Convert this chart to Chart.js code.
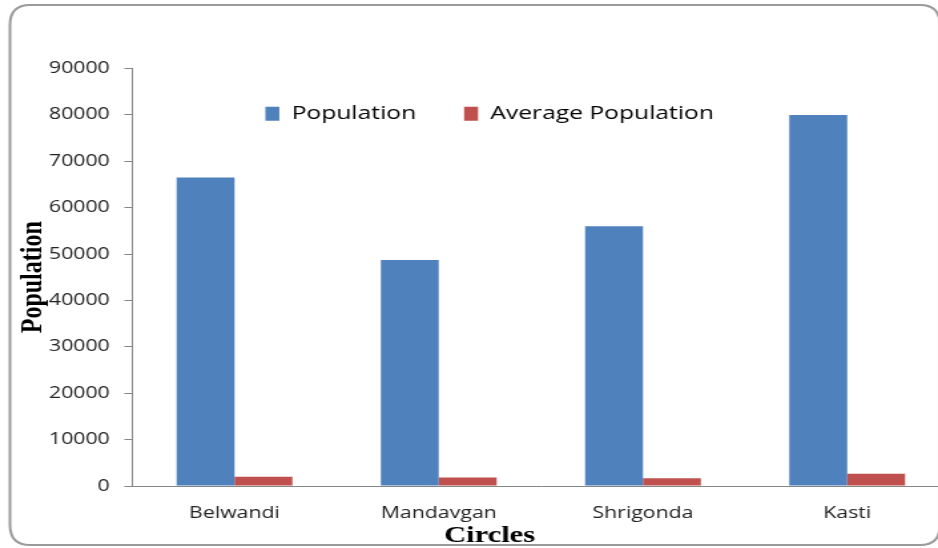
<!DOCTYPE html>
<html>
<head>
<meta charset="utf-8">
<script src="https://cdn.jsdelivr.net/npm/chart.js@4.4.1/dist/chart.umd.min.js"></script>
<style>
  html, body { margin: 0; padding: 0; background: #fff; overflow: hidden; width: 938px; height: 548px; }
  /* the chart is laid out narrow and widened horizontally */
  #wrap { position: absolute; left: 0; top: 0; width: 720px; height: 548px;
          transform: scaleX(1.3305); transform-origin: 0 0; }
</style>
</head>
<body>
<div id="wrap"><canvas id="chart"></canvas></div>
<script>
// Circles (categories) and their values
const circles = ['Belwandi', 'Mandavgan', 'Shrigonda', 'Kasti'];
const population = [66500, 48700, 56000, 80000];
const averagePopulation = [2000, 1850, 1650, 2650];
const yTickLabels = ['0', '10000', '20000', '30000', '40000', '50000', '60000', '70000', '80000', '90000'];

const AXIS_GREY = '#868686';
const SANS = "'Open Sans', 'DejaVu Sans', sans-serif";
const SERIF = "'Liberation Serif', 'DejaVu Serif', serif";
const LEGEND_PAD = 36;

// white background and rounded outer frame
const framePlugin = {
  id: 'frame',
  beforeDraw(chart) {
    const ctx = chart.ctx;
    ctx.save();
    ctx.fillStyle = '#ffffff';
    ctx.fillRect(0, 0, chart.width, chart.height);
    const l = 7.5, t = 5, r = 706.5, b = 545, rx = 15, ry = 20;
    ctx.beginPath();
    ctx.moveTo(l + rx, t);
    ctx.lineTo(r - rx, t);
    ctx.quadraticCurveTo(r, t, r, t + ry);
    ctx.lineTo(r, b - ry);
    ctx.quadraticCurveTo(r, b, r - rx, b);
    ctx.lineTo(l + rx, b);
    ctx.quadraticCurveTo(l, b, l, b - ry);
    ctx.lineTo(l, t + ry);
    ctx.quadraticCurveTo(l, t, l + rx, t);
    ctx.closePath();
    ctx.lineWidth = 2;
    ctx.strokeStyle = '#9b9b9b';
    ctx.stroke();
    ctx.restore();
  }
};

// place the legend row inside the top of the plot area
const legendInsidePlugin = {
  id: 'legendInside',
  afterLayout(chart) {
    const lg = chart.legend;
    if (!lg) return;
    const h = lg.bottom - lg.top;
    lg.top = chart.chartArea.top;
    lg.bottom = lg.top + h;
  }
};

new Chart(document.getElementById('chart'), {
  type: 'bar',
  data: {
    labels: circles,
    datasets: [
      { label: 'Population', data: population, backgroundColor: '#4F81BD', borderWidth: 0 },
      { label: 'Average Population', data: averagePopulation, backgroundColor: '#C0504D', borderWidth: 0 }
    ]
  },
  options: {
    responsive: true,
    maintainAspectRatio: false,
    animation: false,
    categoryPercentage: 0.567,
    barPercentage: 1,
    layout: { padding: { left: 22.5, right: 6.5, top: 4, bottom: 0 } },
    plugins: {
      legend: {
        position: 'top',
        labels: {
          boxWidth: 10.5,
          boxHeight: 14,
          padding: LEGEND_PAD,
          color: '#000',
          font: { family: SANS, size: 18.5 }
        }
      },
      title: {
        display: true,
        position: 'bottom',
        text: 'Circles',
        color: '#000',
        padding: { top: 0, bottom: -2 },
        font: { family: SERIF, size: 23, weight: 'bold', lineHeight: 1.2 }
      },
      tooltip: { enabled: false }
    },
    scales: {
      x: {
        grid: { display: false, drawTicks: false },
        border: { display: true, color: AXIS_GREY, width: 1 },
        ticks: { color: '#222', padding: 18, font: { family: SANS, size: 16 } },
        afterFit(scale) { scale.height = 36.4; }
      },
      y: {
        min: 0,
        max: 90000,
        grid: { display: true, drawOnChartArea: false, drawTicks: true, tickLength: 6, color: AXIS_GREY },
        border: { display: true, color: AXIS_GREY, width: 1 },
        ticks: {
          stepSize: 10000,
          padding: 11,
          color: '#222',
          font: { family: SANS, size: 16 },
          callback: (value, index) => yTickLabels[index]
        },
        title: {
          display: true,
          text: 'Population',
          color: '#000',
          padding: { top: -12.4, bottom: 0 },
          font: { family: SERIF, size: 24, weight: 'bold', lineHeight: 1.2 }
        },
        afterFit(scale) { scale.width = 77; }
      }
    }
  },
  plugins: [framePlugin, legendInsidePlugin]
});
</script>
</body>
</html>
